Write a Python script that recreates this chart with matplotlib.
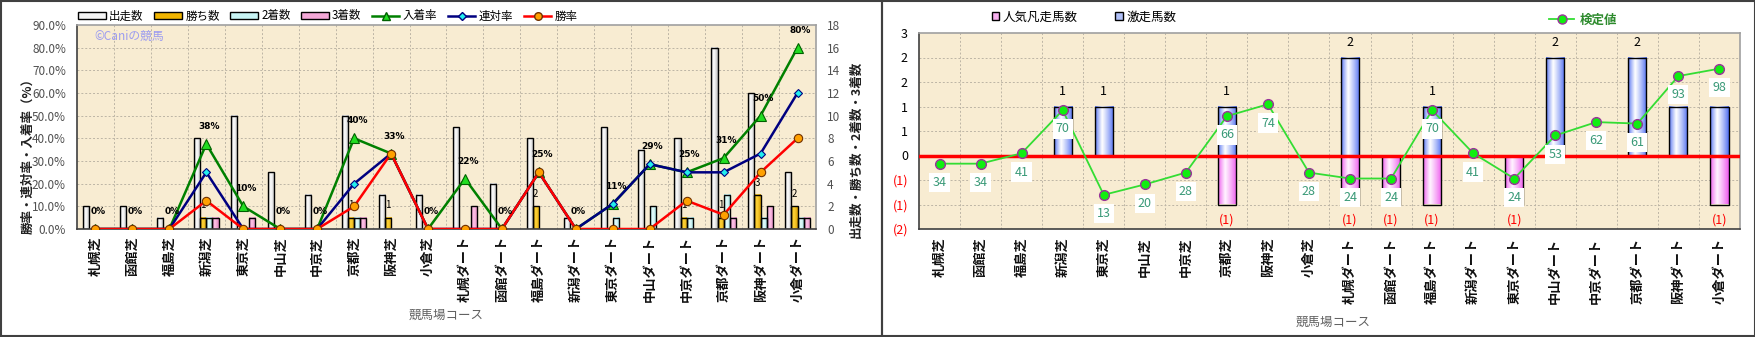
import numpy as np
import matplotlib
matplotlib.use('Agg')
import matplotlib.pyplot as plt
from matplotlib.patches import Rectangle
from matplotlib.lines import Line2D
from matplotlib.colors import to_rgb

plt.rcParams['font.family'] = ['Noto Sans CJK JP', 'DejaVu Sans']

# ---------------- data ----------------
courses = ['札幌芝', '函館芝', '福島芝', '新潟芝', '東京芝', '中山芝', '中京芝', '京都芝', '阪神芝', '小倉芝',
           '札幌ダート', '函館ダート', '福島ダート', '新潟ダート', '東京ダート', '中山ダート', '中京ダート',
           '京都ダート', '阪神ダート', '小倉ダート']
starts = [2, 2, 1, 8, 10, 5, 3, 10, 3, 3, 9, 4, 8, 1, 9, 7, 8, 16, 12, 5]
wins = [0, 0, 0, 1, 0, 0, 0, 1, 1, 0, 0, 0, 2, 0, 0, 0, 1, 1, 3, 2]
seconds = [0, 0, 0, 1, 0, 0, 0, 1, 0, 0, 0, 0, 0, 0, 1, 2, 1, 3, 1, 1]
thirds = [0, 0, 0, 1, 1, 0, 0, 1, 0, 0, 2, 0, 0, 0, 0, 0, 0, 1, 2, 1]
place_rate = [0, 0, 0, 37.5, 10, 0, 0, 40, 33.3, 0, 22.2, 0, 25, 0, 11.1, 28.6, 25, 31.3, 50, 80]
quinella_rate = [0, 0, 0, 25, 0, 0, 0, 20, 33.3, 0, 0, 0, 25, 0, 11.1, 28.6, 25, 25, 33.3, 60]
win_rate = [0, 0, 0, 12.5, 0, 0, 0, 10, 33.3, 0, 0, 0, 25, 0, 0, 0, 12.5, 6.3, 25, 40]
place_labels = ['0%', '0%', '0%', '38%', '10%', '0%', '0%', '40%', '33%', '0%', '22%', '0%', '25%', '0%',
                '11%', '29%', '25%', '31%', '50%', '80%']
pct_ticks = [0, 10, 20, 30, 40, 50, 60, 70, 80, 90]
pct_tick_labels = ['0.0%', '10.0%', '20.0%', '30.0%', '40.0%', '50.0%', '60.0%', '70.0%', '80.0%', '90.0%']
count_ticks = [0, 2, 4, 6, 8, 10, 12, 14, 16, 18]

surge = [0, 0, 0, 1, 1, 0, 0, 1, 0, 0, 2, 0, 1, 0, 0, 2, 0, 2, 1, 1]
flop = [0, 0, 0, 0, 0, 0, 0, -1, 0, 0, -1, -1, -1, 0, -1, 0, 0, 0, 0, -1]
check_value = [34, 34, 41, 70, 13, 20, 28, 66, 74, 28, 24, 24, 70, 41, 24, 53, 62, 61, 93, 98]
r_ticks = [-1.5, -1.0, -0.5, 0, 0.5, 1.0, 1.5, 2.0, 2.5]
r_tick_labels = ['(2)', '(1)', '(1)', '0', '1', '1', '2', '2', '3']

# ---------------- helpers ----------------
W, H = 1756, 337
fig = plt.figure(figsize=(W / 100, H / 100), dpi=100)
fig.patch.set_facecolor('white')

BG = '#F8ECD2'
GRID = '#BDB5A5'


def px_rect(x0, y0, x1, y1):
    return [x0 / W, 1 - y1 / H, (x1 - x0) / W, (y1 - y0) / H]


def gbar(ax, xc, y0, h, w, edge_col, center_col, z, c=0.4):
    if h == 0:
        return
    x0 = xc - w / 2
    t = np.linspace(0, 1, 64)
    prof = np.where(t < c, t / c, (1 - t) / (1 - c)) ** 0.8
    e = np.array(to_rgb(edge_col))
    m = np.array(to_rgb(center_col))
    img = (e[None, :] * (1 - prof[:, None]) + m[None, :] * prof[:, None])[None, :, :]
    b, tp = min(y0, y0 + h), max(y0, y0 + h)
    ax.imshow(img, extent=(x0, x0 + w, b, tp), aspect='auto', interpolation='bilinear', zorder=z)
    ax.add_patch(Rectangle((x0, b), w, tp - b, fill=False, edgecolor='black', lw=1.0, zorder=z + 0.01))


def grid(ax, n, yvals):
    for k in range(1, n):
        ax.axvline(k - 0.5, color=GRID, lw=0.7, ls=(0, (2, 2)), zorder=0.5)
    for y in yvals:
        ax.axhline(y, color=GRID, lw=0.7, ls=(0, (2, 2)), zorder=0.5)


n = len(courses)
x = np.arange(n)
TICKFONT = dict(fontsize=9.5, fontweight='bold', color='#101010')

# ---------------- left panel ----------------
axL = fig.add_axes(px_rect(77, 25, 816, 229))
axB = axL.twinx()
axL.set_zorder(axB.get_zorder() + 1)
axL.patch.set_visible(False)
axB.patch.set_visible(True)
axB.patch.set_facecolor(BG)

grid(axB, n, count_ticks[1:-1])

bw = 0.165
bar_specs = [
    (starts, '#B4B4B4', '#FFFFFF'),
    (wins, '#D49A00', '#FFD438'),
    (seconds, '#8CD4D4', '#E8FFFF'),
    (thirds, '#DC80BC', '#FFC4E8'),
]
for j, (vals, ec, cc) in enumerate(bar_specs):
    off = (j - 1.5) * bw
    for i in range(n):
        gbar(axB, x[i] + off, 0, vals[i], bw, ec, cc, 2)
for i in range(n):
    if wins[i] > 0:
        axB.annotate(str(wins[i]), (x[i] - 0.5 * bw, wins[i]), xytext=(0, 9), textcoords='offset points',
                     ha='center', va='center', fontsize=7, color='black', zorder=5)

axB.set_ylim(0, 18)
axB.set_yticks(count_ticks)
axB.tick_params(axis='y', labelsize=8.5, colors='#505050', length=0, pad=8)
for s in axB.spines.values():
    s.set_visible(False)

axL.plot(x, place_rate, color='#008000', lw=1.8, marker='^', ms=7, mfc='#22DD22', mec='#006000', mew=0.8, zorder=3)
axL.plot(x, quinella_rate, color='#000080', lw=1.8, marker='D', ms=4.5, mfc='#22EEEE', mec='#000080', mew=0.8, zorder=4)
axL.plot(x, win_rate, color='#FF0000', lw=1.8, marker='o', ms=6, mfc='#FFA000', mec='#703000', mew=0.8, zorder=5)
for i in range(n):
    axL.annotate(place_labels[i], (x[i], place_rate[i]), xytext=(2, 12.5), textcoords='offset points',
                 ha='center', va='center', fontsize=6.5, fontweight='bold', color='black', zorder=6,
                 family=['DejaVu Sans'])

axL.set_ylim(0, 90)
axL.set_xlim(-0.5, n - 0.5)
axB.set_xlim(-0.5, n - 0.5)
axL.set_yticks(pct_ticks)
axL.set_yticklabels(pct_tick_labels)
axL.tick_params(axis='y', labelsize=8.5, colors='#505050', length=0, pad=8)
axL.set_xticks(x)
axL.set_xticklabels(courses, rotation=90, **TICKFONT)
axL.tick_params(axis='x', length=0, pad=5)
for side, s in axL.spines.items():
    s.set_color('#404040' if side in ('left', 'bottom') else '#A0A0A0')
    s.set_linewidth(1.2)
axL.text(0.024, 0.945, '©Caniの競馬', transform=axL.transAxes, color='#9C9CF0', fontsize=8.5,
         ha='left', va='center', zorder=7)

leg_handles = [
    Rectangle((0, 0), 1, 1, facecolor='#F4F4F4', edgecolor='black', lw=1),
    Rectangle((0, 0), 1, 1, facecolor='#F0B400', edgecolor='black', lw=1),
    Rectangle((0, 0), 1, 1, facecolor='#C8F4F4', edgecolor='black', lw=1),
    Rectangle((0, 0), 1, 1, facecolor='#F4A8D8', edgecolor='black', lw=1),
    Line2D([], [], color='#008000', lw=1.8, marker='^', ms=6, mfc='#22DD22', mec='#006000'),
    Line2D([], [], color='#000080', lw=1.8, marker='D', ms=4, mfc='#22EEEE', mec='#000080'),
    Line2D([], [], color='#FF0000', lw=1.8, marker='o', ms=5.5, mfc='#FFA000', mec='#703000'),
]
fig.legend(leg_handles, ['出走数', '勝ち数', '2着数', '3着数', '入着率', '連対率', '勝率'],
           loc='center', bbox_to_anchor=(328 / W, 1 - 16 / H), ncol=7, frameon=False, fontsize=8.3,
           handlelength=2.4, handleheight=0.55, columnspacing=0.9, handletextpad=0.3, borderpad=0)

fig.text(28 / W, 1 - 153 / H, '勝率・連対率・入着率（%）', rotation=90, ha='center', va='center',
         fontsize=9, fontweight='bold', color='#202020')
fig.text(856 / W, 1 - 149 / H, '出走数・勝ち数・2着数・3着数', rotation=90, ha='center', va='center',
         fontsize=9, fontweight='bold', color='#202020')
fig.text(446 / W, 1 - 315 / H, '競馬場コース', ha='center', va='center', fontsize=9, color='#606060')

# ---------------- right panel ----------------
axR = fig.add_axes(px_rect(919, 33, 1740, 229))
axR.set_facecolor(BG)
grid(axR, n, r_ticks[1:-1])
rw = 0.44
for i in range(n):
    gbar(axR, x[i], 0, surge[i], rw, '#4868F0', '#FFFFFF', 2, c=0.38)
    gbar(axR, x[i], 0, flop[i], rw, '#EC50EC', '#FFF4FF', 2, c=0.38)
    # a bar-top count is hidden in the original when the 検定値 label box sits over it
    covered = (check_value[i] + 10) / 132 * 4 - 1.5 > surge[i] + 0.1
    if surge[i] > 0 and not covered:
        axR.annotate(str(surge[i]), (x[i], surge[i]), xytext=(0, 11), textcoords='offset points',
                     ha='center', va='center', fontsize=9, color='black', zorder=5)
    if flop[i] < 0:
        axR.annotate('(%d)' % abs(flop[i]), (x[i], flop[i]), xytext=(0, -11), textcoords='offset points',
                     ha='center', va='center', fontsize=9, color='#FF0000', zorder=5)
axR.axhline(0, color='#FF0000', lw=2.5, zorder=4)
axR.set_xlim(-0.5, n - 0.5)
axR.set_ylim(-1.5, 2.5)
axR.set_yticks(r_ticks)
axR.set_yticklabels(r_tick_labels)
axR.tick_params(axis='y', labelsize=9, length=0, pad=8)
for lab, v in zip(axR.get_yticklabels(), r_ticks):
    lab.set_color('#FF0000' if v < 0 else 'black')
axR.set_xticks(x)
axR.set_xticklabels(courses, rotation=90, **TICKFONT)
axR.tick_params(axis='x', length=0, pad=6)
for side, s in axR.spines.items():
    s.set_color('#404040' if side in ('left', 'bottom') else '#A0A0A0')
    s.set_linewidth(1.2)

axR2 = axR.twinx()
axR2.set_ylim(-10, 122)
axR2.set_yticks([])
for s in axR2.spines.values():
    s.set_visible(False)
axR2.plot(x, check_value, color='#33DD33', lw=1.3, marker='o', ms=7, mfc='#11EE11', mec='#993399', mew=1,
          zorder=3)
for i in range(n):
    axR2.annotate(str(check_value[i]), (x[i], check_value[i]), xytext=(0, -13.5), textcoords='offset points',
                  ha='center', va='center', fontsize=9, color='#3A9A78', zorder=6,
                  bbox=dict(boxstyle='square,pad=0.25', fc='white', ec='none'))

fig.legend([Rectangle((0, 0), 1, 1, facecolor='#F8B0F0', edgecolor='black', lw=1),
            Rectangle((0, 0), 1, 1, facecolor='#B0C0F8', edgecolor='black', lw=1)],
           ['人気凡走馬数', '激走馬数'], loc='center', bbox_to_anchor=(1084 / W, 1 - 17 / H), ncol=2,
           frameon=False, fontsize=9, handlelength=0.6, handleheight=0.6, columnspacing=3.0,
           handletextpad=0.3, borderpad=0)
fig.legend([Line2D([], [], color='#33DD33', lw=1.3, marker='o', ms=6.5, mfc='#11EE11', mec='#993399')],
           ['検定値'], loc='center', bbox_to_anchor=(1583 / W, 1 - 20 / H), frameon=False,
           handlelength=2.0, handletextpad=0.4, borderpad=0, labelcolor='#2E8B2E',
           prop={'weight': 'bold', 'size': 9})

fig.text(1333 / W, 1 - 322 / H, '競馬場コース', ha='center', va='center', fontsize=9, color='#606060')

# panel frames
fig.add_artist(Rectangle((1 / W, 1 / H), 881 / W, 335 / H, transform=fig.transFigure, fill=False,
                         ec='#404040', lw=1.5))
fig.add_artist(Rectangle((882 / W, 1 / H), 873 / W, 335 / H, transform=fig.transFigure, fill=False,
                         ec='#404040', lw=1.5))

fig.savefig('out.png', dpi=100)
